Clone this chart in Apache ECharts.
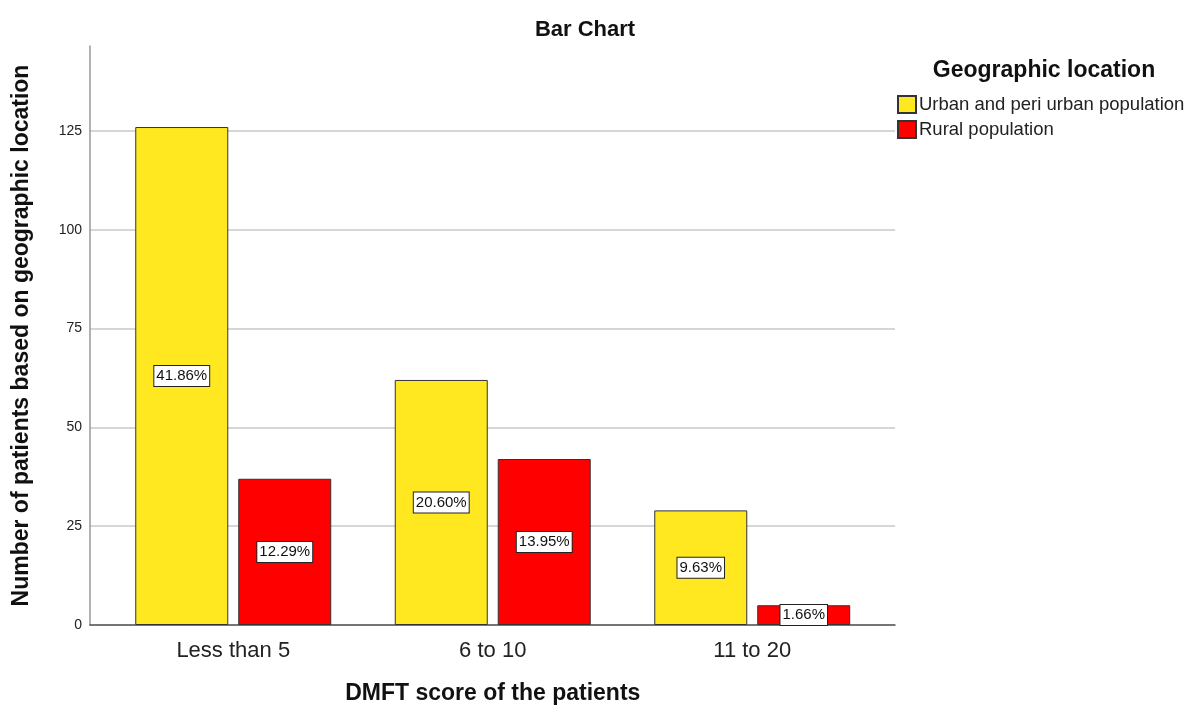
<!DOCTYPE html>
<html>
<head>
<meta charset="utf-8">
<script src="https://cdn.jsdelivr.net/npm/echarts@6/dist/echarts.min.js"></script>
<style>
html,body{margin:0;padding:0;background:#fff;}
#chart{width:1191px;height:707px;}
</style>
</head>
<body>
<div id="chart"></div>
<script>
const categories = ['Less than 5', '6 to 10', '11 to 20'];
const seriesNames = ['Urban and peri urban population', 'Rural population'];
const urbanValues = [126, 62, 29];
const ruralValues = [37, 42, 5];
const urbanLabels = ['41.86%', '20.60%', '9.63%'];
const ruralLabels = ['12.29%', '13.95%', '1.66%'];
const yMax = 146.5;
const yInterval = 25;

const FONT = '"Liberation Sans", Arial, sans-serif';

const labelStyle = {
  show: true,
  position: 'inside',
  backgroundColor: '#ffffff',
  borderColor: '#222',
  borderWidth: 1,
  padding: [3, 2, 2, 2],
  fontSize: 15,
  fontFamily: 'Liberation Sans',
  color: '#111'
};

const chart = echarts.init(document.getElementById('chart'), null, {renderer: 'canvas'});
chart.setOption({
  backgroundColor: '#ffffff',
  animation: false,
  textStyle: {fontFamily: FONT},
  title: [
    {text: 'Bar Chart', left: 585, top: 19, textAlign: 'center', padding: 0,
     textStyle: {fontSize: 22, fontWeight: 'bold', color: '#111', fontFamily: FONT}},
    {text: 'Geographic location', left: 1044, top: 59, textAlign: 'center', padding: 0,
     textStyle: {fontSize: 23, fontWeight: 'bold', color: '#111', fontFamily: FONT}}
  ],
  legend: {
    orient: 'vertical',
    left: 897,
    top: 95,
    padding: 0,
    itemWidth: 18,
    itemHeight: 17,
    itemGap: 6,
    icon: 'rect',
    data: seriesNames,
    textStyle: {fontSize: 18.5, color: '#222', fontFamily: FONT, padding: [0, 0, 0, -2]}
  },
  grid: [
    {left: 90, top: 46, width: 805, height: 579, outerBoundsMode: 'none', containLabel: false},
    {left: 103.5, top: 46, width: 778.5, height: 579, outerBoundsMode: 'none', containLabel: false}
  ],
  xAxis: [
    {gridIndex: 0, type: 'value', min: 0, max: 1,
     axisLine: {show: true, lineStyle: {color: '#555', width: 1.5}},
     axisTick: {show: false}, axisLabel: {show: false}, splitLine: {show: false}},
    {gridIndex: 1, type: 'category', data: categories,
     axisLine: {show: false}, axisTick: {show: false},
     axisLabel: {fontSize: 22, color: '#222', margin: 15, fontFamily: FONT},
     name: 'DMFT score of the patients', nameLocation: 'middle', nameGap: 57,
     nameTextStyle: {fontSize: 23, fontWeight: 'bold', color: '#111', fontFamily: FONT}}
  ],
  yAxis: [
    {gridIndex: 0, type: 'value', min: 0, max: yMax, interval: yInterval,
     axisLine: {show: true, lineStyle: {color: '#999', width: 1.5}},
     axisTick: {show: false},
     axisLabel: {showMaxLabel: false, fontSize: 14, color: '#222', margin: 8, fontFamily: FONT},
     splitLine: {show: true, showMaxLine: false, lineStyle: {color: '#c8c8c8', width: 1.5}},
     name: 'Number of patients based on geographic location', nameLocation: 'middle', nameGap: 57,
     nameTextStyle: {fontSize: 23, fontWeight: 'bold', color: '#111', fontFamily: FONT}},
    {gridIndex: 1, type: 'value', min: 0, max: yMax, interval: yInterval, show: false}
  ],
  series: [
    {name: seriesNames[0], type: 'bar', xAxisIndex: 1, yAxisIndex: 1,
     barWidth: 93, barGap: '10.75%',
     data: urbanValues,
     itemStyle: {color: '#FFE81F', borderColor: '#333', borderWidth: 1},
     label: Object.assign({}, labelStyle, {formatter: p => urbanLabels[p.dataIndex]})},
    {name: seriesNames[1], type: 'bar', xAxisIndex: 1, yAxisIndex: 1,
     barWidth: 93,
     data: ruralValues,
     itemStyle: {color: '#FF0000', borderColor: '#333', borderWidth: 1},
     label: Object.assign({}, labelStyle, {formatter: p => ruralLabels[p.dataIndex]})}
  ]
});
</script>
</body>
</html>
